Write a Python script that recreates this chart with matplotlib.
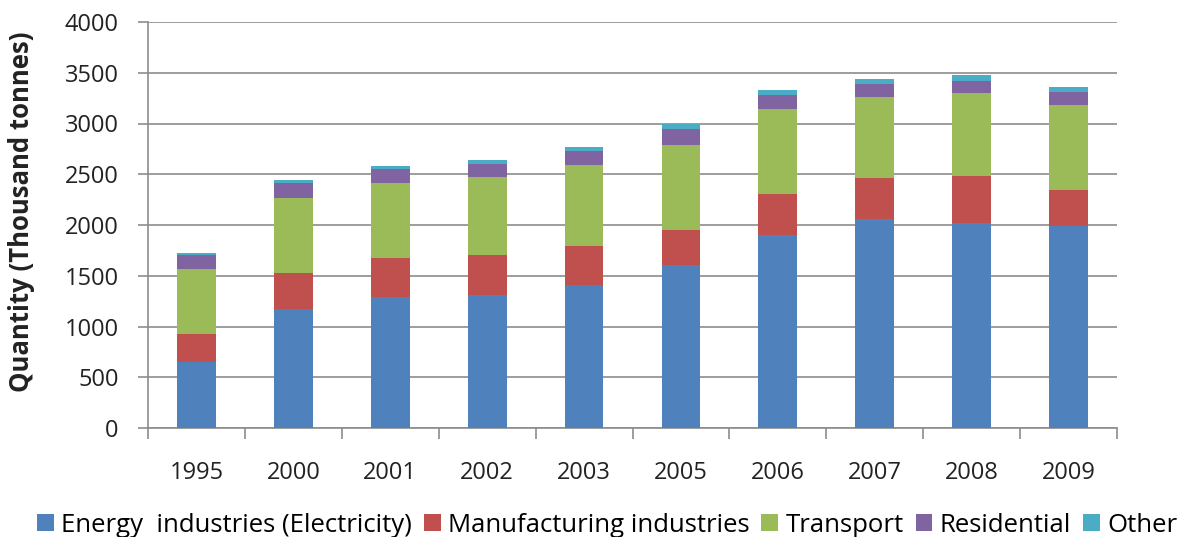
import matplotlib
matplotlib.use("Agg")
import matplotlib.pyplot as plt
import numpy as np

years = ["1995", "2000", "2001", "2002", "2003", "2005", "2006", "2007", "2008", "2009"]
energy = [650, 1170, 1295, 1315, 1405, 1610, 1900, 2063, 2020, 1987]
manufacturing = [275, 362, 378, 385, 386, 340, 405, 400, 459, 354]
transport = [640, 738, 738, 768, 803, 842, 842, 800, 817, 844]
residential = [138, 141, 138, 131, 136, 156, 138, 125, 125, 121]
other = [25, 30, 33, 40, 42, 49, 49, 55, 56, 56]

series_names = ["Energy  industries (Electricity)", "Manufacturing industries",
                "Transport", "Residential", "Other"]
colors = ["#4F81BD", "#C0504D", "#9BBB59", "#8064A2", "#4BACC6"]

plt.rcParams['font.family'] = ['Open Sans', 'DejaVu Sans']

fig = plt.figure(figsize=(11.79, 5.37), dpi=100)
ax = fig.add_axes([148/1179, 1-428/537, (1117-148)/1179, (428-22)/537])

x = np.arange(len(years))
bottom = np.zeros(len(years))
handles = []
for vals, name, c in zip([energy, manufacturing, transport, residential, other], series_names, colors):
    h = ax.bar(x, vals, width=0.4, bottom=bottom, color=c, label=name, zorder=3)
    handles.append(h)
    bottom += np.array(vals)

ax.set_xlim(-0.5, len(years) - 0.5)
ax.set_ylim(0, 4000)
ax.set_yticks(np.arange(0, 4001, 500))
ax.yaxis.grid(True, color="#8c8c8c", linewidth=1.2, zorder=0)
ax.set_axisbelow(True)

ax.set_xticks(np.arange(-0.5, len(years), 1.0))
ax.set_xticklabels([])
ax.set_xticks(x, minor=True)
ax.set_xticklabels(years, minor=True)
ax.tick_params(axis='x', which='major', length=8, width=1.2, color="#8c8c8c", direction='out')
ax.tick_params(axis='x', which='minor', length=0, pad=24, labelsize=17, labelcolor="#222222")
ax.tick_params(axis='y', length=7, width=1.2, color="#8c8c8c", direction='out', pad=14,
               labelsize=17, labelcolor="#222222")

for s in ['top', 'right']:
    ax.spines[s].set_visible(False)
for s in ['left', 'bottom']:
    ax.spines[s].set_color("#8c8c8c")
    ax.spines[s].set_linewidth(1.2)

fig.text(22/1179, 1-212/537, "Quantity (Thousand tonnes)", rotation=90, ha='center', va='center',
         fontsize=18.5, fontweight='bold', color="#222222")

fig.legend(handles=handles, labels=series_names, loc='center', bbox_to_anchor=(0.515, 1-525/537),
           ncol=5, frameon=False, fontsize=18.5, handlelength=0.65, handleheight=0.65,
           handletextpad=0.3, columnspacing=0.45, borderaxespad=0, borderpad=0)

fig.savefig("out.png", dpi=100)
